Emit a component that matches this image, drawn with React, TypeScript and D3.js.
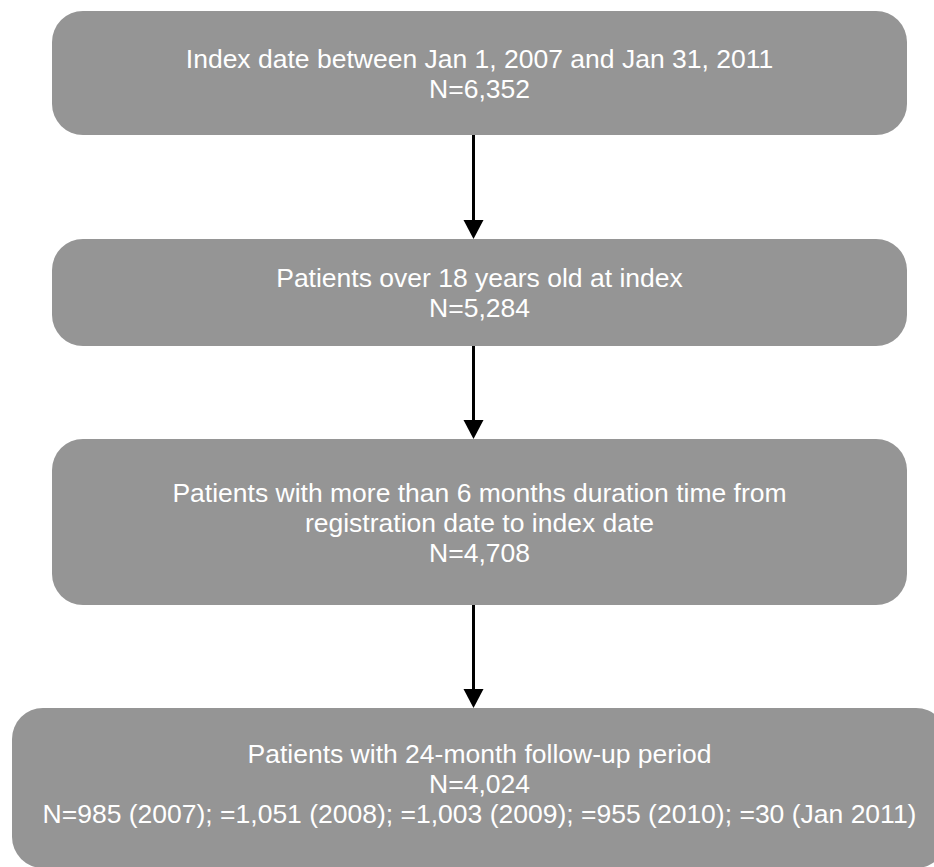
import React, { useRef, useEffect } from 'react';
import * as d3 from 'd3';

// Box texts, top to bottom
const step1 = ['Index date between Jan 1, 2007 and Jan 31, 2011', 'N=6,352'];
const step2 = ['Patients over 18 years old at index', 'N=5,284'];
const step3 = [
  'Patients with more than 6 months duration time from',
  'registration date to index date',
  'N=4,708',
];
const step4 = [
  'Patients with 24-month follow-up period',
  'N=4,024',
  'N=985 (2007); =1,051 (2008); =1,003 (2009); =955 (2010); =30 (Jan 2011)',
];
const steps = [step1, step2, step3, step4];

// Box geometry (pixels)
const boxTops = [11, 239, 439, 708];
const boxBottoms = [135, 346, 605, 868];
const boxLefts = [52, 52, 52, 12];
const boxRights = [907, 907, 907, 947];
// vertical centre of each text block
const textCentres = [73, 292.5, 522, 783];

const App = () => {
  const svgRef = useRef<SVGSVGElement>(null);

  useEffect(() => {
    const width = 934;
    const height = 867;
    const lineH = 30;
    const fontSize = 26.5;
    const arrowX = 473.5;

    const svg = d3.select(svgRef.current)
      .attr('width', width)
      .attr('height', height);
    svg.selectAll('*').remove();

    // Boxes
    const g = svg.append('g');
    steps.forEach((lines, i) => {
      const x0 = boxLefts[i];
      const x1 = boxRights[i];
      const y0 = boxTops[i];
      const y1 = boxBottoms[i];
      g.append('rect')
        .attr('x', x0)
        .attr('y', y0)
        .attr('width', x1 - x0)
        .attr('height', y1 - y0)
        .attr('rx', 31)
        .attr('ry', 31)
        .attr('fill', '#959595');

      const cx = (x0 + x1) / 2;
      const cy = textCentres[i];
      g.append('text')
        .attr('text-anchor', 'middle')
        .attr('font-family', '"Liberation Sans", Arial, sans-serif')
        .attr('font-size', fontSize)
        .attr('fill', '#ffffff')
        .selectAll('tspan')
        .data(lines)
        .join('tspan')
        .attr('x', cx)
        .attr('y', (d, j) => cy + (j - (lines.length - 1) / 2) * lineH + 9.5)
        .text(d => d);
    });

    // Arrows between boxes
    for (let i = 0; i < steps.length - 1; i++) {
      const ya = boxBottoms[i];
      const yb = boxTops[i + 1];
      svg.append('line')
        .attr('x1', arrowX)
        .attr('x2', arrowX)
        .attr('y1', ya)
        .attr('y2', yb - 15)
        .attr('stroke', '#000')
        .attr('stroke-width', 3);
      svg.append('path')
        .attr('d', d3.line()([
          [arrowX - 10, yb - 19],
          [arrowX + 10, yb - 19],
          [arrowX, yb],
        ]) + 'Z')
        .attr('fill', '#000');
    }
  }, []);

  return (
    <svg
      ref={svgRef}
      style={{ position: 'absolute', left: 0, top: 0, display: 'block' }}
    ></svg>
  );
};

export default App;
